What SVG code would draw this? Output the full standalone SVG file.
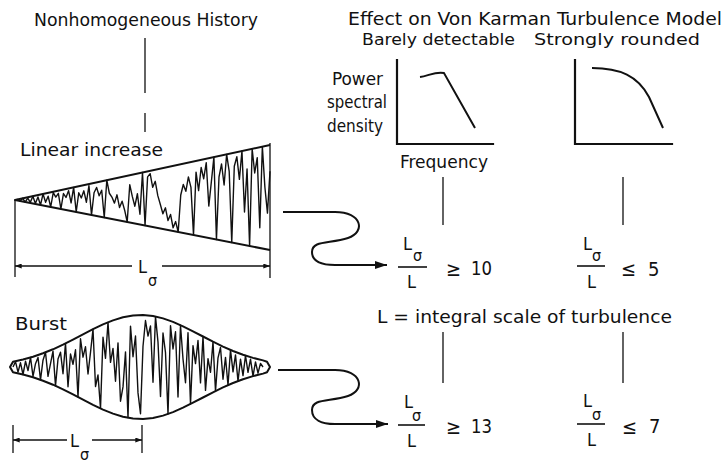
<svg xmlns="http://www.w3.org/2000/svg" width="725" height="465" viewBox="0 0 725 465">
<defs>
<style>
text{font-family:"DejaVu Sans Condensed","DejaVu Sans","Liberation Sans",sans-serif;font-size:18px;fill:#111}
.ln{stroke:#111;stroke-width:1.3;fill:none}
.ax{stroke:#111;stroke-width:2.2;fill:none;stroke-linecap:square}
.env{stroke:#111;stroke-width:2;fill:none;stroke-linejoin:round}
.sig{stroke:#111;stroke-width:1.4;fill:none;stroke-linejoin:round}
.con{stroke:#111;stroke-width:2;fill:none}
.sub{font-size:16px}
.num{font-size:20px}
.hd{font-size:17px}
.sh{font-size:16.5px}
.bar{stroke:#111;stroke-width:1.6}
</style>
<marker id="ah" viewBox="0 0 12 8" refX="12" refY="4" markerWidth="13" markerHeight="8" markerUnits="userSpaceOnUse" orient="auto"><path d="M0,0 L12,4 L0,8 z" fill="#111"/></marker>
<marker id="dh" viewBox="0 0 8 6" refX="8" refY="3" markerWidth="7" markerHeight="5" markerUnits="userSpaceOnUse" orient="auto"><path d="M0,0 L8,3 L0,6 z" fill="#111"/></marker>
</defs>
<rect width="725" height="465" fill="#fff"/>

<g id="title-history">
<text x="34" y="26" textLength="224" lengthAdjust="spacingAndGlyphs">Nonhomogeneous History</text>
</g>
<g id="title-effect">
<text class="hd" x="348" y="25" textLength="374" lengthAdjust="spacingAndGlyphs">Effect on Von Karman Turbulence Model</text>
<text class="sh" x="362" y="45" textLength="153" lengthAdjust="spacingAndGlyphs">Barely detectable</text>
<text class="sh" x="534" y="45" textLength="166" lengthAdjust="spacingAndGlyphs">Strongly rounded</text>
</g>

<g id="psd-graph-1">
<text x="332" y="85" textLength="51" lengthAdjust="spacingAndGlyphs">Power</text>
<text x="327" y="108" textLength="60" lengthAdjust="spacingAndGlyphs">spectral</text>
<text x="327" y="132" textLength="56" lengthAdjust="spacingAndGlyphs">density</text>
<path class="ax" d="M397,60 L397,144 L493,144"/>
<path class="con" d="M420,77 C428,76 436,71 444,73 L475,128"/>
<text x="400" y="168" textLength="88" lengthAdjust="spacingAndGlyphs">Frequency</text>
</g>

<g id="psd-graph-2">
<path class="ax" d="M575,60 L575,144 L672,144"/>
<path class="con" d="M592,68 C620,68 638,76 649,97 L663,128"/>
</g>

<g id="linear-increase">
<text x="20" y="156" textLength="143" lengthAdjust="spacingAndGlyphs">Linear increase</text>
<polyline class="sig" points="15,200 17.55,199.56 20.1,200.9 22.65,198.35 25.2,202 27.75,198.04 30.3,202.37 32.85,196.15 35.4,203.58 37.95,196.94 40.5,205 43.05,193.95 45.6,202.22 48.15,196.26 50.7,207 53.25,192.54 55.8,197.08 58.35,193.33 60.9,209 63.45,193.54 66,197.4 68.55,190.66 71.1,202.92 73.65,187.35 76.2,212 78.75,192.81 81.3,197.99 83.85,190.82 86.4,202.24 88.95,185.57 91.5,215 94.05,192.72 96.6,187.44 99.15,195.71 101.7,190.23 104.25,217.5 106.8,180.2 109.35,193.25 111.9,197.06 114.45,203.12 117,194.8 119.55,207.59 122.1,201.16 124.65,210.21 127.2,222 129.75,184.7 132.3,196.44 134.85,206.23 137.4,193.76 139.95,214.21 142.5,172.5 145.05,225.5 147.6,176.86 150.15,173.63 152.7,187.31 155.25,181.3 157.8,195.66 160.35,204.56 162.9,213.78 165.45,207.82 168,220.55 170.55,214.49 173.1,227.75 175.65,221.58 178.2,232 180.75,194.96 183.3,184.49 185.85,191.29 188.4,176.88 190.95,187.41 193.5,235 196.05,172.13 198.6,190.64 201.15,167.52 203.7,178.73 206.25,162.69 208.8,206.08 211.35,181.9 213.9,157.1 216.45,239.5 219,177 221.55,163.96 224.1,185.04 226.65,154.35 229.2,171.44 231.75,242.5 234.3,166.25 236.85,156.72 239.4,179.32 241.95,151.05 244.5,211.93 247.05,169.06 249.6,246 252.15,148.85 254.7,172.98 257.25,157.73 259.8,227.84 262.35,146.65 264.9,187.26 267.45,213.12 270,171.25"/>
<path class="env" d="M270,145 L15,200 L270,250"/>
<path class="ln" d="M15,200 L15,277 M270,143 L270,278"/>
<path class="ln" d="M132,266 L15,266" marker-end="url(#dh)"/>
<path class="ln" d="M162,266 L270,266" marker-end="url(#dh)"/>
<text x="138" y="273">L</text>
<text class="sub" x="148" y="286">σ</text>
</g>

<g id="burst">
<text x="15" y="330" textLength="52" lengthAdjust="spacingAndGlyphs">Burst</text>
<polyline class="sig" points="13,367 15.5,361.7 18,372.1 20.5,362.8 23,374.5 25.5,361.3 28,370.6 30.5,357.4 33,376.3 35.5,363.7 38,357.4 40.5,379.8 43,360.2 45.5,352.3 48,376.4 50.5,363.7 53,351.1 55.5,385.9 58,359 60.5,352.2 63,373.7 65.5,343.4 68,386.8 70.5,354 73,364.3 75.5,349.8 78,397 80.5,338.8 83,357.2 85.5,346.7 88,374 90.5,352.4 93,329.2 95.5,386.5 98,375 100.5,408.4 103,337.2 105.5,358.3 108,322.4 110.5,362.4 113,348.4 115.5,381.2 118,342.9 120.5,401.2 123,386.9 125.5,351.9 128,417.6 130.5,326.1 133,356.7 135.5,336 138,392.9 140.5,413.7 143,346.2 145.5,320.5 148,336.1 150.5,326 153,382.3 155.5,316.6 158,342.1 160.5,396.5 163,333 165.5,352.7 168,413.9 170.5,325.6 173,349 175.5,331.8 178,397 180.5,325.2 183,358.9 185.5,382.8 188,332.6 190.5,404 193,345.6 195.5,363.6 198,340.5 200.5,382.9 203,336.5 205.5,390.4 208,358.6 210.5,372.3 213,341.7 215.5,391.1 218,357.8 220.5,347.5 223,379.2 225.5,357.4 228,385.2 230.5,349.9 233,371.8 235.5,354.9 238,381.2 240.5,359.1 243,375.6 245.5,355.5 248,372.4 250.5,359.1 253,376.1 255.5,361.9 258,373.2 260.5,363.4 263,367"/>
<polygon class="env" points="10,367 13,361.7 23,359.5 33,356.7 43,353.3 53,349.3 63,344.7 73,339.6 83,334.4 93,329.2 103,324.4 113,320.4 123,317.3 133,315.5 143,315 153,316 163,318.4 173,321.9 183,326.3 193,331.3 203,336.5 213,341.7 223,346.6 233,351 243,354.7 253,357.9 263,360.4 267,361.8 270,367 267,372.2 263,373.6 253,376.1 243,379.3 233,383 223,387.4 213,392.3 203,397.5 193,402.7 183,407.7 173,412.1 163,415.6 153,418 143,419 133,418.5 123,416.7 113,413.6 103,409.6 93,404.8 83,399.6 73,394.4 63,389.3 53,384.7 43,380.7 33,377.3 23,374.5 13,372.3"/>
<path class="ln" d="M13,425 L13,453 M142,425 L142,453"/>
<path class="ln" d="M67,440 L13,440" marker-end="url(#dh)"/>
<path class="ln" d="M92,440 L142,440" marker-end="url(#dh)"/>
<text x="70" y="447">L</text>
<text class="sub" x="80" y="460">σ</text>
</g>

<g id="ratio-linear-1">
<text x="403" y="250">L</text>
<text class="sub" x="413" y="261">σ</text>
<line class="bar" x1="398" y1="267" x2="427" y2="267"/>
<text x="407" y="288">L</text>
<text class="num" x="446" y="276">≥</text>
<text class="num" x="471" y="275" textLength="21" lengthAdjust="spacingAndGlyphs">10</text>
</g>
<g id="ratio-linear-2">
<text x="583" y="250">L</text>
<text class="sub" x="592" y="261">σ</text>
<line class="bar" x1="577" y1="266" x2="605" y2="266"/>
<text x="587" y="288">L</text>
<text class="num" x="621" y="276">≤</text>
<text class="num" x="648" y="276">5</text>
</g>

<g id="scale-note">
<text x="377" y="323" textLength="295" lengthAdjust="spacingAndGlyphs">L = integral scale of turbulence</text>
</g>

<g id="ratio-burst-1">
<text x="404" y="408">L</text>
<text class="sub" x="412" y="421">σ</text>
<line class="bar" x1="398" y1="425" x2="425" y2="425"/>
<text x="407" y="447">L</text>
<text class="num" x="446" y="434">≥</text>
<text class="num" x="471" y="433" textLength="21" lengthAdjust="spacingAndGlyphs">13</text>
</g>
<g id="ratio-burst-2">
<text x="583" y="407">L</text>
<text class="sub" x="592" y="420">σ</text>
<line class="bar" x1="577" y1="424" x2="605" y2="424"/>
<text x="587" y="446">L</text>
<text class="num" x="622" y="434">≤</text>
<text class="num" x="649" y="433">7</text>
</g>

<g id="connectors">
<path class="ln" d="M145,38 L145,93 M145,113 L145,132"/>
<path class="ln" d="M443,177 L443,225 M623,177 L623,225"/>
<path class="ln" d="M443,332 L443,383 M623,332 L623,383"/>
<path class="con" d="M283,212 L335,212 C362,212 366,232 348,238 C330,244 312,240 312,252 C312,262 322,265 335,265 L387,265" marker-end="url(#ah)"/>
<path class="con" d="M278,370 L335,370 C362,370 366,390 348,396 C330,402 312,398 312,410 C312,420 322,424 335,424 L388,424" marker-end="url(#ah)"/>
</g>
</svg>
